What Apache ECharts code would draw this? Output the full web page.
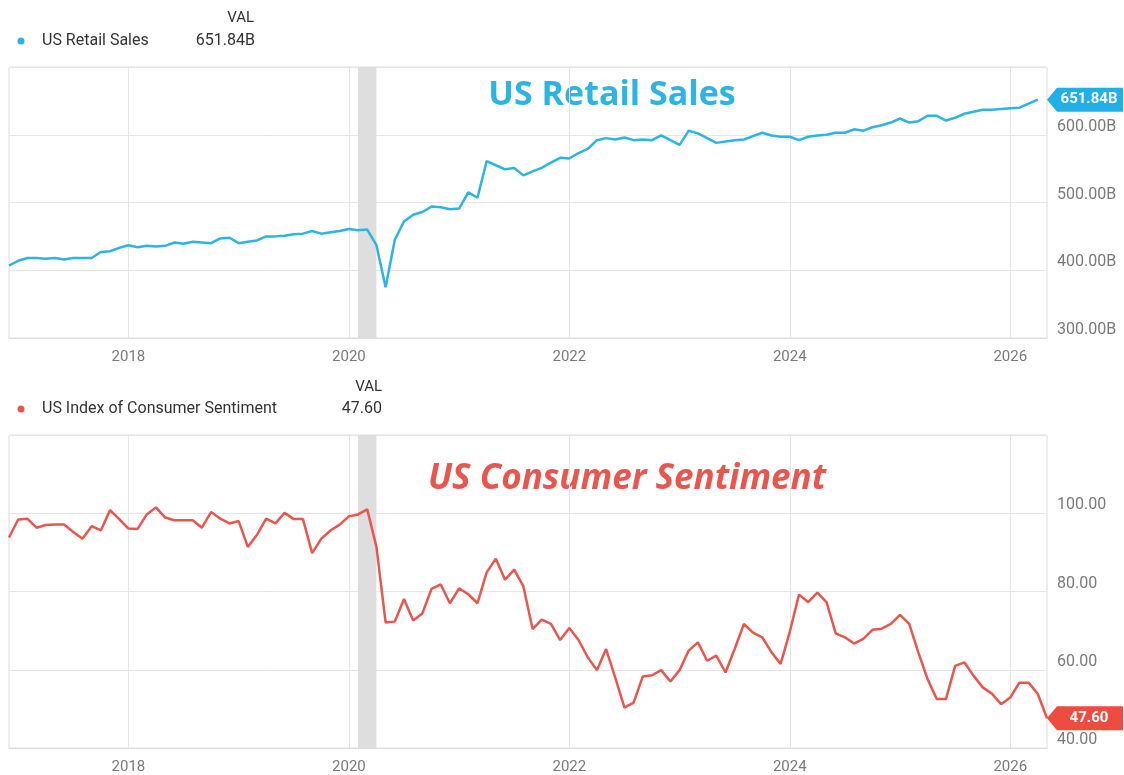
<!DOCTYPE html>
<html>
<head>
<meta charset="utf-8">
<title>US Retail Sales vs US Consumer Sentiment</title>
<script src="https://cdn.jsdelivr.net/npm/echarts@6/dist/echarts.min.js"></script>
<style>
    html, body { margin: 0; padding: 0; background: #fff; }
    #main { width: 1124px; height: 775px; }
</style>
</head>
<body>
<div id="main"></div>
<script>
// monthly data, first point = Dec 2016
var startYear = 2016;
var startMonth = 12;

// US Retail Sales, billions
var retailSales = [
    407, 414, 418, 418, 417, 418, 416, 418, 418, 418,
    427, 428, 433, 437, 434, 436, 435, 436, 441, 439,
    442, 441, 440, 447, 448, 440, 442, 444, 450, 450,
    451, 453, 454, 458, 454, 456, 458, 461, 459, 460,
    437, 375, 445, 472, 482, 486, 494, 493, 490, 491,
    515, 507, 561, 555, 549, 551, 540, 546, 551, 559,
    566, 565, 573, 579, 592, 595, 593, 596, 592, 593,
    592, 599, 592, 585, 606, 602, 595, 588, 590, 592,
    593, 598, 603, 599, 597, 597, 592, 597, 599, 600,
    603, 603, 608, 606, 611, 614, 618, 624, 618, 620,
    628, 628, 621, 625, 631, 634, 637, 637, 638, 639,
    640, 646, 651.84
];

// US Index of Consumer Sentiment
var consumerSentiment = [
    93.8, 98.4, 98.6, 96.3, 97.0, 97.1, 97.1, 95.2, 93.5, 96.7,
    95.6, 100.8, 98.5, 96.1, 96.0, 99.7, 101.5, 98.9, 98.2, 98.2,
    98.2, 96.3, 100.3, 98.6, 97.4, 98.0, 91.4, 94.5, 98.6, 97.4,
    100.1, 98.5, 98.5, 89.8, 93.5, 95.6, 97.1, 99.2, 99.7, 101.0,
    91.4, 72.1, 72.3, 78.1, 72.6, 74.4, 80.7, 81.8, 77.0, 80.8,
    79.3, 77.0, 84.9, 88.4, 83.0, 85.6, 81.3, 70.4, 72.8, 71.7,
    67.6, 70.7, 67.6, 63.2, 59.9, 65.3, 58.0, 50.3, 51.6, 58.3,
    58.6, 59.9, 57.0, 59.9, 64.9, 67.0, 62.3, 63.6, 59.3, 65.3,
    71.7, 69.5, 68.3, 64.5, 61.5, 69.7, 79.2, 77.3, 79.7, 77.3,
    69.3, 68.3, 66.7, 67.9, 70.2, 70.5, 71.7, 74.0, 71.7, 64.4,
    57.6, 52.5, 52.5, 61.0, 61.9, 58.5, 55.5, 53.9, 51.2, 52.9,
    56.7, 56.7, 53.8, 47.6
];

var yearTicks = [2018, 2020, 2022, 2024, 2026];
// recession band Feb 2020 - Apr 2020, x axis in decimal years
var recession = [2020 + 1 / 12, 2020 + 3 / 12];
var axisStart = 2016 + 11 / 12;
var axisEnd = 2026 + 4 / 12;

var blue = '#2cb4e2';
var red = '#e8564d';

function monthX(i) {
    return startYear + (startMonth - 1 + i) / 12;
}

function toPairs(values) {
    var out = [];
    for (var i = 0; i < values.length; i++) {
        out.push([monthX(i), values[i]]);
    }
    return out;
}

function xAxisFor(gridIndex) {
    return {
        type: 'value',
        gridIndex: gridIndex,
        min: axisStart,
        max: axisEnd,
        axisLine: { show: true, onZero: false, lineStyle: { color: '#dcdcdc' } },
        axisTick: { show: false, customValues: yearTicks },
        splitLine: { show: true, lineStyle: { color: '#e6e6e6', width: 1 } },
        axisLabel: {
            customValues: yearTicks,
            color: '#7a7a7a',
            fontFamily: 'Roboto',
            fontSize: 15,
            margin: 12,
            formatter: function(v) { return Math.round(v) + ''; }
        }
    };
}

function tagMarker(color, text, value) {
    return {
        symbol: 'path://M0,12L10,0L76,0L76,24L10,24Z',
        symbolSize: [76, 24],
        symbolKeepAspect: false,
        symbolOffset: [38, 0],
        silent: true,
        itemStyle: { color: color },
        label: {
            show: true,
            color: '#fff',
            fontFamily: 'Roboto',
            fontWeight: 'bold',
            fontSize: 15,
            offset: [4, 0],
            formatter: text
        },
        data: [{ coord: [axisEnd, value] }]
    };
}

function recessionArea() {
    return {
        silent: true,
        itemStyle: { color: '#dedede', opacity: 1 },
        data: [[{ xAxis: recession[0] }, { xAxis: recession[1] }]]
    };
}

var lastRetail = retailSales[retailSales.length - 1];
var lastSentiment = consumerSentiment[consumerSentiment.length - 1];
var retailText = lastRetail.toFixed(2) + 'B';
var sentimentText = lastSentiment.toFixed(2);

var option = {
    backgroundColor: '#fff',
    animation: false,
    grid: [
        { left: 9, right: 77, top: 67, height: 271, show: true, borderColor: '#dcdcdc', backgroundColor: 'transparent' },
        { left: 9, right: 77, top: 435, height: 313, show: true, borderColor: '#dcdcdc', backgroundColor: 'transparent' }
    ],
    xAxis: [xAxisFor(0), xAxisFor(1)],
    yAxis: [
        {
            type: 'value',
            gridIndex: 0,
            position: 'right',
            min: 300,
            max: 700,
            interval: 100,
            axisLine: { show: false },
            axisTick: { show: false },
            splitLine: { lineStyle: { color: '#e6e6e6' } },
            axisLabel: {
                color: '#7a7a7a',
                fontFamily: 'Roboto',
                fontSize: 16,
                margin: 10,
                verticalAlign: 'bottom',
                showMaxLabel: false,
                formatter: function(v) { return v.toFixed(2) + 'B'; }
            }
        },
        {
            type: 'value',
            gridIndex: 1,
            position: 'right',
            min: 40,
            max: 120,
            interval: 20,
            axisLine: { show: false },
            axisTick: { show: false },
            splitLine: { lineStyle: { color: '#e6e6e6' } },
            axisLabel: {
                color: '#7a7a7a',
                fontFamily: 'Roboto',
                fontSize: 16,
                margin: 10,
                verticalAlign: 'bottom',
                showMaxLabel: false,
                formatter: function(v) { return v.toFixed(2); }
            }
        }
    ],
    series: [
        {
            name: 'US Retail Sales',
            type: 'line',
            xAxisIndex: 0,
            yAxisIndex: 0,
            data: toPairs(retailSales),
            showSymbol: false,
            lineStyle: { color: blue, width: 2.5 },
            itemStyle: { color: blue },
            markArea: recessionArea(),
            markPoint: tagMarker('#1eb0e6', retailText, lastRetail)
        },
        {
            name: 'US Index of Consumer Sentiment',
            type: 'line',
            xAxisIndex: 1,
            yAxisIndex: 1,
            data: toPairs(consumerSentiment),
            showSymbol: false,
            lineStyle: { color: red, width: 2.5 },
            itemStyle: { color: red },
            markArea: recessionArea(),
            markPoint: tagMarker('#ee4b41', sentimentText, lastSentiment)
        }
    ],
    graphic: [
        // legend block, top chart
        { type: 'text', x: 254, y: 18, style: { text: 'VAL', fontFamily: 'Roboto', fontSize: 15, fill: '#333', align: 'right', verticalAlign: 'middle' } },
        { type: 'circle', shape: { cx: 21, cy: 41, r: 3.5 }, style: { fill: blue } },
        { type: 'text', x: 42, y: 41, style: { text: 'US Retail Sales', fontFamily: 'Roboto', fontSize: 16, fill: '#333', verticalAlign: 'middle' } },
        { type: 'text', x: 255, y: 41, style: { text: retailText, fontFamily: 'Roboto', fontSize: 16, fill: '#333', align: 'right', verticalAlign: 'middle' } },
        // legend block, bottom chart
        { type: 'text', x: 382, y: 387, style: { text: 'VAL', fontFamily: 'Roboto', fontSize: 15, fill: '#333', align: 'right', verticalAlign: 'middle' } },
        { type: 'circle', shape: { cx: 21, cy: 409, r: 3.5 }, style: { fill: red } },
        { type: 'text', x: 42, y: 409, style: { text: 'US Index of Consumer Sentiment', fontFamily: 'Roboto', fontSize: 16, fill: '#333', verticalAlign: 'middle' } },
        { type: 'text', x: 382, y: 409, style: { text: sentimentText, fontFamily: 'Roboto', fontSize: 16, fill: '#333', align: 'right', verticalAlign: 'middle' } },
        // hand-written style annotations
        { type: 'text', x: 612, y: 95, style: { text: 'US Retail Sales', fontFamily: 'Open Sans', fontWeight: 'bold', fontSize: 34, fill: blue, align: 'center', verticalAlign: 'middle' } },
        { type: 'text', x: 627, y: 479, style: { text: 'US Consumer Sentiment', fontFamily: 'Open Sans', fontWeight: 'bold', fontStyle: 'italic', fontSize: 35, fill: red, align: 'center', verticalAlign: 'middle' } }
    ]
};

var myChart = echarts.init(document.getElementById('main'));
myChart.setOption(option);
</script>
</body>
</html>
